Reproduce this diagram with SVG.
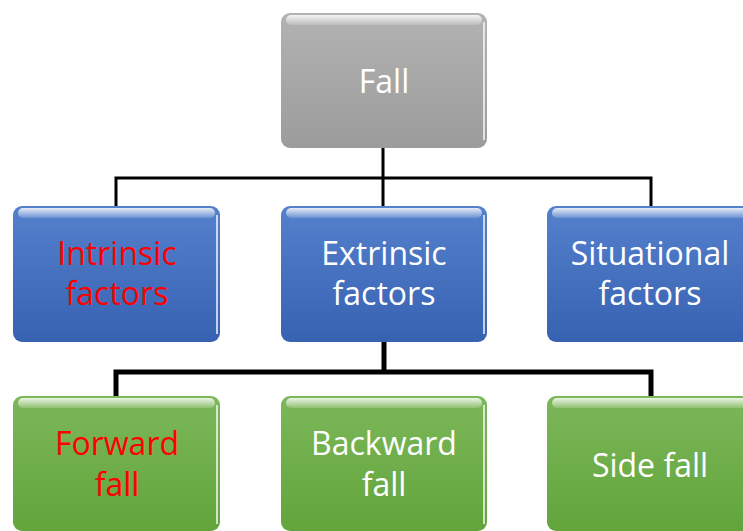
<svg xmlns="http://www.w3.org/2000/svg" width="743" height="531" viewBox="0 0 743 531">
  <style>
    .lbl { font-family: "Open Sans", "Liberation Sans", sans-serif; font-size: 32px; text-anchor: middle; fill: #ffffff; }
    .red { fill: #ff0000; }
    .wire { fill: none; stroke: #000000; stroke-linecap: square; }
    .gloss { fill: url(#shine); }
    .edge { fill: none; stroke: #ffffff; stroke-opacity: 0.7; stroke-width: 2; }
  </style>
  <defs>
    <linearGradient id="grayFill" x1="0" y1="0" x2="0" y2="1">
      <stop offset="0" stop-color="#b2b2b2"/>
      <stop offset="1" stop-color="#9c9c9c"/>
    </linearGradient>
    <linearGradient id="blueFill" x1="0" y1="0" x2="0" y2="1">
      <stop offset="0" stop-color="#5480cc"/>
      <stop offset="1" stop-color="#3762b2"/>
    </linearGradient>
    <linearGradient id="greenFill" x1="0" y1="0" x2="0" y2="1">
      <stop offset="0" stop-color="#7cb75a"/>
      <stop offset="1" stop-color="#62a53b"/>
    </linearGradient>
    <linearGradient id="shine" x1="0" y1="0" x2="0" y2="1">
      <stop offset="0" stop-color="#ffffff" stop-opacity="0.85"/>
      <stop offset="1" stop-color="#ffffff" stop-opacity="0.15"/>
    </linearGradient>
  </defs>

  <!-- connectors -->
  <g id="connectors">
    <path class="wire" stroke-width="3" d="M383,148 V178 M116,178 H651 M116,178 V206 M383,178 V206 M651,178 V206"/>
    <path class="wire" stroke-width="5" d="M384,342 V372 M116,372 H651 M116,372 V396 M651,372 V396"/>
  </g>

  <!-- top node -->
  <g id="fall">
    <rect x="281" y="13" width="206" height="135" rx="9" fill="url(#grayFill)"/>
    <rect x="286" y="15" width="196" height="10" rx="5" class="gloss"/>
    <path class="edge" d="M484,22 V140"/>
    <text class="lbl" x="384" y="93">Fall</text>
  </g>

  <!-- middle row -->
  <g id="intrinsic">
    <rect x="13" y="206" width="207" height="136" rx="9" fill="url(#blueFill)"/>
    <rect x="18" y="208" width="197" height="10" rx="5" class="gloss"/>
    <path class="edge" d="M217,215 V334"/>
    <text class="lbl red" x="117" y="265">Intrinsic</text>
    <text class="lbl red" x="117" y="305">factors</text>
  </g>
  <g id="extrinsic">
    <rect x="281" y="206" width="206" height="136" rx="9" fill="url(#blueFill)"/>
    <rect x="286" y="208" width="196" height="10" rx="5" class="gloss"/>
    <path class="edge" d="M484,215 V334"/>
    <text class="lbl" x="384" y="265">Extrinsic</text>
    <text class="lbl" x="384" y="305">factors</text>
  </g>
  <g id="situational">
    <rect x="547" y="206" width="207" height="136" rx="9" fill="url(#blueFill)"/>
    <rect x="552" y="208" width="197" height="10" rx="5" class="gloss"/>
    <text class="lbl" x="650" y="265">Situational</text>
    <text class="lbl" x="650" y="305">factors</text>
  </g>

  <!-- bottom row -->
  <g id="forward">
    <rect x="13" y="396" width="207" height="135" rx="9" fill="url(#greenFill)"/>
    <rect x="18" y="398" width="197" height="10" rx="5" class="gloss"/>
    <path class="edge" d="M217,405 V524"/>
    <text class="lbl red" x="117" y="455">Forward</text>
    <text class="lbl red" x="117" y="496">fall</text>
  </g>
  <g id="backward">
    <rect x="281" y="396" width="206" height="135" rx="9" fill="url(#greenFill)"/>
    <rect x="286" y="398" width="196" height="10" rx="5" class="gloss"/>
    <path class="edge" d="M484,405 V524"/>
    <text class="lbl" x="384" y="455">Backward</text>
    <text class="lbl" x="384" y="496">fall</text>
  </g>
  <g id="side">
    <rect x="547" y="396" width="207" height="135" rx="9" fill="url(#greenFill)"/>
    <rect x="552" y="398" width="197" height="10" rx="5" class="gloss"/>
    <text class="lbl" x="650" y="477">Side fall</text>
  </g>
</svg>
